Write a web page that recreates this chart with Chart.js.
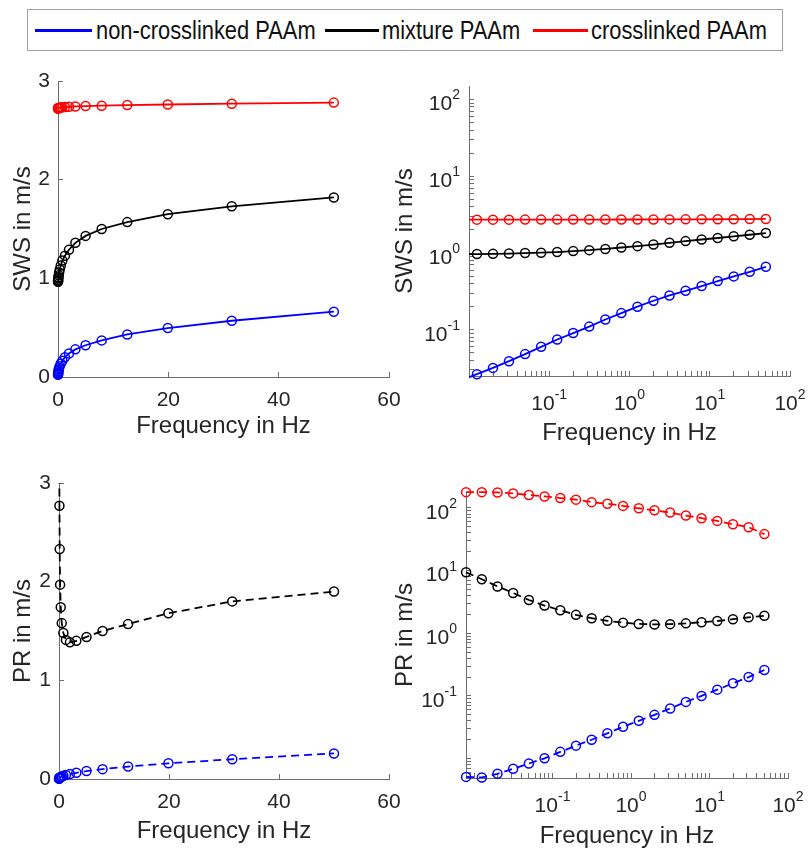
<!DOCTYPE html>
<html>
<head>
<meta charset="utf-8">
<script src="https://cdn.jsdelivr.net/npm/chart.js@4/dist/chart.umd.min.js"></script>
<style>
  html, body { margin: 0; padding: 0; background: #ffffff; }
  #page { position: relative; width: 808px; height: 848px; overflow: hidden; font-family: "Liberation Sans", Arial, Helvetica, sans-serif; }
  canvas { position: absolute; }
  #legend { position: absolute; left: 27px; top: 9px; width: 754px; height: 40px; border: 1px solid #a0a0a0; background: #fff; }
  .key { position: absolute; top: 0; height: 40px; line-height: 40px; font-size: 25px; color: #111; white-space: nowrap; }
  .key i { position: absolute; top: 19px; left: 0; height: 3px; }
  .key b { position: absolute; top: 0; font-weight: normal; transform: scaleX(0.875); transform-origin: 0 50%; }
</style>
</head>
<body>
<div id="page">
  <div id="legend">
    <span class="key" style="left:7px"><i style="width:57px;background:#0000ff"></i><b style="left:61px">non-crosslinked PAAm</b></span>
    <span class="key" style="left:297px"><i style="width:54px;background:#000000"></i><b style="left:57px">mixture PAAm</b></span>
    <span class="key" style="left:505px"><i style="width:55px;background:#ff0000"></i><b style="left:58px">crosslinked PAAm</b></span>
  </div>
  <canvas id="sws-lin" width="404" height="385" style="left:0;top:60px"></canvas>
  <canvas id="sws-log" width="422" height="385" style="left:386px;top:60px"></canvas>
  <canvas id="pr-lin" width="404" height="386" style="left:0;top:462px"></canvas>
  <canvas id="pr-log" width="422" height="386" style="left:386px;top:462px"></canvas>
</div>
<script>
// frequencies (Hz), same grid for every curve
const freqHz = [0.00792, 0.01256, 0.0199, 0.0315, 0.05, 0.0792, 0.1256, 0.199, 0.315, 0.5,
  0.792, 1.256, 1.99, 3.15, 5, 7.92, 12.56, 19.9, 31.5, 50];

// shear wave speed (m/s)
const swsNonCrosslinked = [0.0218, 0.0264, 0.0319, 0.039, 0.0482, 0.060, 0.0748, 0.0906, 0.110, 0.136,
  0.165, 0.200, 0.239, 0.280, 0.322, 0.371, 0.431, 0.496, 0.570, 0.662];
const swsMixture = [0.965, 0.97, 0.975, 0.985, 1.0, 1.01, 1.03, 1.06, 1.09, 1.13,
  1.18, 1.23, 1.29, 1.36, 1.43, 1.50, 1.57, 1.65, 1.73, 1.82];
const swsCrosslinked = [2.721, 2.722, 2.723, 2.724, 2.725, 2.726, 2.727, 2.728, 2.73, 2.732,
  2.734, 2.736, 2.739, 2.742, 2.746, 2.750, 2.756, 2.762, 2.770, 2.781];

// penetration rate (m/s)
const prNonCrosslinked = [0.0051, 0.0050, 0.00572, 0.00687, 0.00834, 0.0101, 0.0128, 0.0161, 0.0200, 0.0253,
  0.0322, 0.0401, 0.0499, 0.0631, 0.0803, 0.100, 0.126, 0.159, 0.200, 0.259];
const prMixture = [9.4, 7.3, 5.6, 4.4, 3.4, 2.77, 2.33, 1.97, 1.74, 1.58,
  1.48, 1.41, 1.385, 1.40, 1.44, 1.50, 1.57, 1.68, 1.80, 1.90];
const prCrosslinked = [179, 179, 177, 171, 161, 153, 144, 136, 124, 117,
  108, 99, 92, 84.5, 75.7, 68.7, 62.2, 55, 49.4, 38.3];

// tick values
const freqTicksLin = [0, 20, 40, 60];
const speedTicksLin = [0, 1, 2, 3];
const decadeLabels = [0.1, 1, 10, 100];

const FONT_FAMILY = '"Liberation Sans", Arial, Helvetica, sans-serif';
const TEXT_COLOR = '#262626';
const AXIS_COLOR = '#6e6e6e';

// draws "10" with a raised exponent at each labelled decade of a log axis
const powerLabels = {
  id: 'powerLabels',
  afterDraw(chart, args, opts) {
    if (!opts.axes) return;
    const ctx = chart.ctx;
    ctx.save();
    ctx.fillStyle = TEXT_COLOR;
    ctx.textBaseline = 'middle';
    ctx.textAlign = 'left';
    opts.axes.forEach((id) => {
      const scale = chart.scales[id];
      decadeLabels.forEach((value) => {
        if (value < scale.min * 1.001 || value > scale.max * 1.001) return;
        const px = scale.getPixelForValue(value);
        const sup = String(Math.round(Math.log10(value)));
        ctx.font = '21px ' + FONT_FAMILY;
        const baseWidth = ctx.measureText('10').width;
        ctx.font = '14px ' + FONT_FAMILY;
        const supWidth = ctx.measureText(sup).width;
        let x0, yBase, ySup;
        if (scale.isHorizontal()) {
          x0 = px - (baseWidth + supWidth) / 2;
          yBase = scale.top + 28;
          ySup = scale.top + 19;
        } else {
          x0 = scale.right - 9 - baseWidth - supWidth;
          yBase = px + 5;
          ySup = px - 4;
        }
        ctx.font = '21px ' + FONT_FAMILY;
        ctx.fillText('10', x0, yBase);
        ctx.font = '14px ' + FONT_FAMILY;
        ctx.fillText(sup, x0 + baseWidth, ySup);
      });
    });
    ctx.restore();
  }
};

function logTicks(scale) {
  const ticks = [];
  const lo = Math.floor(Math.log10(scale.min));
  const hi = Math.ceil(Math.log10(scale.max));
  for (let e = lo; e <= hi; e++) {
    for (let m = 1; m <= 9; m++) {
      const v = Number((m * Math.pow(10, e)).toPrecision(6));
      if (v >= scale.min && v <= scale.max * 1.0001) ticks.push({ value: v });
    }
  }
  scale.ticks = ticks;
}

function series(values, color, dashed, clip) {
  return {
    data: freqHz.map((f, i) => ({ x: f, y: values[i] })),
    borderColor: color,
    backgroundColor: color,
    borderWidth: 1.8,
    borderDash: dashed ? [8, 5] : [],
    pointRadius: 4.5,
    pointHoverRadius: 4.5,
    pointBorderWidth: 1.5,
    pointBorderColor: color,
    pointBackgroundColor: 'rgba(0,0,0,0)',
    tension: 0,
    clip
  };
}

function axis(opts) {
  const isLog = opts.type === 'logarithmic';
  return {
    type: opts.type,
    position: opts.position,
    min: opts.min,
    max: opts.max,
    afterBuildTicks: isLog ? logTicks : (scale) => { scale.ticks = opts.ticks.map((v) => ({ value: v })); },
    afterFit: (scale) => {
      // fixed axis band so the plot boxes land where the reference has them
      if (scale.isHorizontal()) scale.height = opts.size;
      else scale.width = opts.size;
      scale.paddingLeft = 0;
      scale.paddingRight = 0;
      scale.paddingTop = 0;
      scale.paddingBottom = 0;
    },
    border: { display: true, color: AXIS_COLOR, width: 1 },
    grid: { display: true, drawOnChartArea: false, drawTicks: true, tickLength: -5, color: AXIS_COLOR, tickColor: AXIS_COLOR },
    ticks: {
      autoSkip: false,
      maxRotation: 0,
      color: TEXT_COLOR,
      padding: opts.position === 'bottom' ? 17.5 : 13,
      font: { family: FONT_FAMILY, size: 21, lineHeight: 1 },
      callback: isLog ? () => '' : (v) => String(v)
    },
    title: {
      display: true,
      text: opts.title,
      color: TEXT_COLOR,
      font: { family: FONT_FAMILY, size: 24, lineHeight: 1 },
      padding: opts.position === 'bottom' ? { top: 0, bottom: opts.titlePad } : { top: opts.titlePad, bottom: 0 }
    }
  };
}

function renderPanel(canvasId, p) {
  new Chart(document.getElementById(canvasId), {
    type: 'line',
    data: {
      datasets: [
        series(p.blue, '#0000ff', p.dashed, p.clip),
        series(p.black, '#000000', p.dashed, p.clip),
        series(p.red, '#ff0000', p.dashed, p.clip)
      ]
    },
    options: {
      responsive: false,
      animation: false,
      events: [],
      layout: { autoPadding: false, padding: { left: 0, top: p.padTop, right: p.padRight, bottom: 0 } },
      plugins: {
        legend: { display: false },
        tooltip: { enabled: false },
        powerLabels: { axes: p.logAxes }
      },
      scales: {
        x: axis(p.x),
        y: axis(p.y)
      }
    },
    plugins: [powerLabels]
  });
}

renderPanel('sws-lin', {
  blue: swsNonCrosslinked, black: swsMixture, red: swsCrosslinked, dashed: false,
  clip: { left: 6, top: 6, right: 6, bottom: 6 }, padTop: 21, padRight: 15, logAxes: null,
  x: { type: 'linear', position: 'bottom', min: 0, max: 60, ticks: freqTicksLin, size: 68, title: 'Frequency in Hz', titlePad: 7 },
  y: { type: 'linear', position: 'left', min: 0, max: 3, ticks: speedTicksLin, size: 58, title: 'SWS in m/s', titlePad: 11 }
});

renderPanel('sws-log', {
  blue: swsNonCrosslinked, black: swsMixture, red: swsCrosslinked, dashed: false,
  clip: { left: 0, top: 6, right: 6, bottom: 6 }, padTop: 26, padRight: 18, logAxes: ['x', 'y'],
  x: { type: 'logarithmic', position: 'bottom', min: 0.01, max: 100, size: 69, title: 'Frequency in Hz', titlePad: 0 },
  y: { type: 'logarithmic', position: 'left', min: 0.025, max: 150, size: 83, title: 'SWS in m/s', titlePad: 7 }
});

renderPanel('pr-lin', {
  blue: prNonCrosslinked, black: prMixture, red: prCrosslinked, dashed: true,
  clip: { left: 6, top: 0, right: 6, bottom: 6 }, padTop: 21, padRight: 15, logAxes: null,
  x: { type: 'linear', position: 'bottom', min: 0, max: 60, ticks: freqTicksLin, size: 69, title: 'Frequency in Hz', titlePad: 5 },
  y: { type: 'linear', position: 'left', min: 0, max: 3, ticks: speedTicksLin, size: 59, title: 'PR in m/s', titlePad: 11 }
});

renderPanel('pr-log', {
  blue: prNonCrosslinked, black: prMixture, red: prCrosslinked, dashed: true,
  clip: { left: 6, top: 6, right: 6, bottom: 6 }, padTop: 30, padRight: 20, logAxes: ['x', 'y'],
  x: { type: 'logarithmic', position: 'bottom', min: 0.0079, max: 100, size: 70, title: 'Frequency in Hz', titlePad: 0 },
  y: { type: 'logarithmic', position: 'left', min: 0.0049, max: 180, size: 80, title: 'PR in m/s', titlePad: 7 }
});
</script>
</body>
</html>
